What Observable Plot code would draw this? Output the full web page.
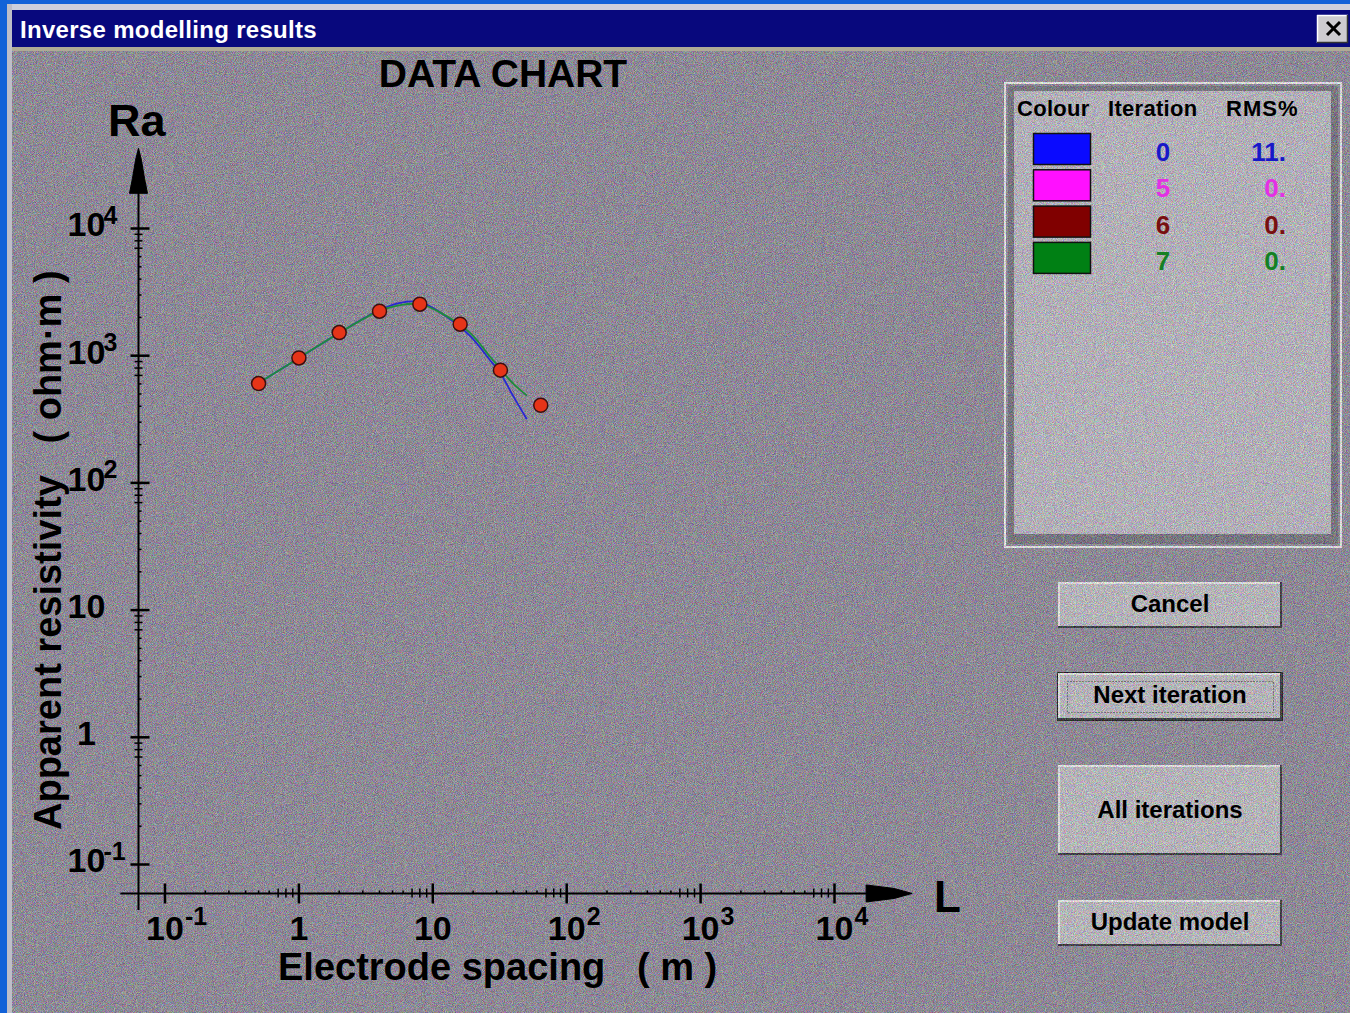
<!DOCTYPE html>
<html>
<head>
<meta charset="utf-8">
<script src="https://cdn.jsdelivr.net/npm/d3@7"></script>
<script src="https://cdn.jsdelivr.net/npm/@observablehq/plot@0.6"></script>
<style>
  html, body { margin: 0; padding: 0; }
  body { width: 1350px; height: 1013px; position: relative; overflow: hidden;
         background: rgb(142,138,152); font-family: "Liberation Sans", Arial, sans-serif; }
  .abs { position: absolute; left: 0; top: 0; }
  #txt text { font-family: "Liberation Sans", Arial, sans-serif; white-space: pre; }
</style>
</head>
<body>
<svg id="bg" class="abs" width="1350" height="1013"></svg>
<div id="chart" class="abs"></div>
<svg id="txt" class="abs" width="1350" height="1013"></svg>
<script>
// ---------------- data ----------------
// observed apparent resistivity (ohm·m) at electrode spacing (m)
const spacing     = [0.5, 1, 2, 4, 8, 16, 32, 64];
const observedRa  = [604, 961, 1520, 2240, 2540, 1770, 770, 408];

// model curves
const modelSpacing = [0.5, 1, 2, 4, 5.7, 8, 11.3, 18.9, 26.6, 31.6, 39.5, 50];
const iter0Ra      = [610, 960, 1510, 2280, 2600, 2640, 2200, 1440, 930, 745, 490, 321];
const iter7Ra      = [610, 960, 1510, 2250, 2500, 2540, 2190, 1520, 990, 800, 608, 490];

// legend
const iterations  = [0, 5, 6, 7];
const rmsPercent  = ["11.", "0.", "0.", "0."];
const iterColors  = ["rgb(10,10,255)", "rgb(255,16,255)", "rgb(128,0,0)", "rgb(0,128,20)"];
const iterText    = ["rgb(24,24,200)", "rgb(228,48,228)", "rgb(120,16,16)", "rgb(20,128,36)"];

// axis ticks
const decadeTicks = [0.1, 1, 10, 100, 1000, 10000];
const tickBase    = ["10", "1", "10", "10", "10", "10"];
const tickExp     = ["-1", "", "", "2", "3", "4"];

const buttons = ["Cancel", "Next iteration", "All iterations", "Update model"];

// ---------------- background / window chrome ----------------
const bg = d3.select("#bg");
const defs = bg.append("defs");
const f = defs.append("filter").attr("id", "noise").attr("x", 0).attr("y", 0)
  .attr("width", "100%").attr("height", "100%").attr("color-interpolation-filters", "sRGB");
f.append("feTurbulence").attr("type", "fractalNoise").attr("baseFrequency", 1.1).attr("numOctaves", 2).attr("seed", 7);
f.append("feColorMatrix").attr("type", "matrix")
  .attr("values", "2.4 0 0 0 -0.7  0 2.4 0 0 -0.7  0 0 2.4 0 -0.7  0 0 0 0 1");

function rect(x, y, w, h, fill, extra = {}) {
  const r = bg.append("rect").attr("x", x).attr("y", y).attr("width", w).attr("height", h).attr("fill", fill);
  for (const k in extra) r.attr(k, extra[k]);
  return r;
}
function line(x1, y1, x2, y2, stroke, w, extra = {}) {
  const l = bg.append("line").attr("x1", x1).attr("y1", y1).attr("x2", x2).attr("y2", y2)
    .attr("stroke", stroke).attr("stroke-width", w);
  for (const k in extra) l.attr(k, extra[k]);
  return l;
}
rect(0, 0, 1350, 1013, "rgb(148,142,160)");

// legend panel
rect(1005, 83, 336, 464, "none", {stroke: "#fff", "stroke-width": 2});
rect(1008, 86, 330, 458, "rgb(118,115,128)");
rect(1014, 91, 317, 443, "rgb(200,197,208)");

// buttons
const btnBoxes = [[1058, 582, 224, 46], [1058, 673, 224, 47], [1058, 765, 224, 90], [1058, 900, 224, 46]];
btnBoxes.forEach(([x, y, w, h], i) => {
  if (i === 1) rect(x - 1, y - 1, w + 2, h + 2, "rgb(10,10,10)");
  rect(x, y, w, h, "rgb(204,202,209)");
  line(x, y + 1, x + w, y + 1, "#fff", 2); line(x + 1, y, x + 1, y + h, "#fff", 2);
  line(x, y + h - 1, x + w, y + h - 1, "rgb(40,40,48)", 2); line(x + w - 1, y, x + w - 1, y + h, "rgb(40,40,48)", 2);
  if (i === 1) rect(1067.5, 681.5, 206, 31, "none", {stroke: "#222", "stroke-width": 1, "stroke-dasharray": "1,2"});
});
// texture
rect(0, 0, 1350, 1013, "#888", {filter: "url(#noise)", opacity: 0.3});

// window chrome (on top of texture)
rect(0, 0, 1350, 4, "rgb(18,98,216)");
rect(0, 4, 1350, 6, "rgb(205,208,220)");
rect(0, 0, 7, 1013, "rgb(18,98,216)");
rect(7, 4, 5, 1009, "rgb(190,190,200)");
rect(12, 10, 1338, 37, "rgb(8,8,125)");
rect(12, 47, 1338, 4, "rgb(175,170,150)");
// close button
rect(1317, 15, 31, 28, "rgb(205,203,208)");
line(1317, 15.5, 1348, 15.5, "#fff", 1.5); line(1317.5, 15, 1317.5, 43, "#fff", 1.5);
line(1317, 42.5, 1348, 42.5, "#333", 1.5); line(1347.5, 15, 1347.5, 43, "#333", 1.5);
line(1327, 22, 1340, 35, "#000", 3); line(1340, 22, 1327, 35, "#000", 3);

// legend swatches
iterColors.forEach((c, i) => {
  rect(1033.5, 133.5 + i * 36.3, 57, 31, c, {stroke: "#111", "stroke-width": 1.5});
});

// ---------------- chart (Observable Plot) ----------------
const X_AXIS_AT = 0.0592;      // Ra value on which the horizontal axis sits
const X_AXIS_FROM = 0.0468, X_AXIS_TO = 2.0e4, X_ARROW_TIP = 3.8e4;
const Y_AXIS_AT = 0.0634;      // spacing value on which the vertical axis sits
const Y_AXIS_FROM = 0.0435, Y_AXIS_TO = 2.0e4, Y_ARROW_TIP = 4.27e4;

const sym = (pts) => ({draw(c) { c.moveTo(...pts[0]); for (const p of pts.slice(1)) c.lineTo(...p); }});
const arrowRight = {draw(c) { c.moveTo(0, 0); c.lineTo(-18, -5); c.lineTo(-46, -8.5); c.lineTo(-46, 8.5); c.lineTo(-18, 5); c.closePath(); }};
const arrowUp    = {draw(c) { c.moveTo(0, 0); c.lineTo(-3, 12); c.lineTo(-6, 30); c.lineTo(-9, 45); c.lineTo(9, 45); c.lineTo(6, 30); c.lineTo(3, 12); c.closePath(); }};
const xMajor = sym([[0, -10], [0, 10]]);
const xLong  = sym([[0, -5], [0, 4]]);
const xShort = sym([[0, -3], [0, 0]]);
const yMajor = sym([[-8, 0], [11, 0]]);
const yLong  = sym([[-4, 0], [4, 0]]);
const yShort = sym([[0, 0], [3, 0]]);

const minorLong = [], minorShort = [];
for (const d of [0.1, 1, 10, 100, 1000]) {
  for (let k = 2; k <= 9; k++) (k >= 7 ? minorLong : minorShort).push(d * k);
}

const obs = spacing.map((x, i) => ({x, y: observedRa[i]}));
const it0 = modelSpacing.map((x, i) => ({x, y: iter0Ra[i]}));
const it7 = modelSpacing.map((x, i) => ({x, y: iter7Ra[i]}));
const labels = decadeTicks.map((v, i) => ({v, base: tickBase[i], exp: tickExp[i]}));

const bold = {fontWeight: "bold", fill: "black", fontFamily: "Liberation Sans, Arial, sans-serif"};

const chart = Plot.plot({
  width: 1000, height: 1013,
  style: {background: "transparent", overflow: "visible"},
  x: {type: "log", domain: [0.1, 1e4], range: [164.5, 834], axis: null},
  y: {type: "log", domain: [0.1, 1e4], range: [864, 228], axis: null},
  marks: [
    // axes
    Plot.ruleY([X_AXIS_AT], {x1: X_AXIS_FROM, x2: X_AXIS_TO, stroke: "black", strokeWidth: 2}),
    Plot.ruleX([Y_AXIS_AT], {y1: Y_AXIS_FROM, y2: Y_AXIS_TO, stroke: "black", strokeWidth: 2}),
    Plot.dot([X_ARROW_TIP], {x: d => d, y: X_AXIS_AT, symbol: arrowRight, fill: "black", stroke: "black", strokeWidth: 1}),
    Plot.dot([Y_ARROW_TIP], {x: Y_AXIS_AT, y: d => d, symbol: arrowUp, fill: "black", stroke: "black", strokeWidth: 1}),
    // x ticks
    Plot.dot(decadeTicks, {x: d => d, y: X_AXIS_AT, symbol: xMajor, stroke: "black", fill: "none", strokeWidth: 2.5}),
    Plot.dot(minorLong, {x: d => d, y: X_AXIS_AT, symbol: xLong, stroke: "black", fill: "none", strokeWidth: 1.5}),
    Plot.dot(minorShort, {x: d => d, y: X_AXIS_AT, symbol: xShort, stroke: "black", fill: "none", strokeWidth: 1.5}),
    // y ticks
    Plot.dot(decadeTicks, {x: Y_AXIS_AT, y: d => d, symbol: yMajor, stroke: "black", fill: "none", strokeWidth: 2.5}),
    Plot.dot(minorLong, {x: Y_AXIS_AT, y: d => d, symbol: yLong, stroke: "black", fill: "none", strokeWidth: 1.5}),
    Plot.dot(minorShort, {x: Y_AXIS_AT, y: d => d, symbol: yShort, stroke: "black", fill: "none", strokeWidth: 1.5}),
    // x tick labels
    Plot.text(labels, {x: "v", y: X_AXIS_AT, text: "base", dy: 36, fontSize: 34, textAnchor: "middle", lineAnchor: "middle", ...bold}),
    Plot.text(labels, {x: "v", y: X_AXIS_AT, text: "exp", dx: 20, dy: 24, fontSize: 25, textAnchor: "start", lineAnchor: "middle", ...bold}),
    // y tick labels
    Plot.text(labels, {x: Y_AXIS_AT, y: "v", text: "base", dx: -52, dy: -3, fontSize: 34, textAnchor: "middle", lineAnchor: "middle", ...bold}),
    Plot.text(labels, {x: Y_AXIS_AT, y: "v", text: "exp", dx: -35, dy: -13, fontSize: 25, textAnchor: "start", lineAnchor: "middle", ...bold}),
    // model curves (iteration 0 underneath, final iteration on top)
    Plot.line(it0, {x: "x", y: "y", stroke: "rgb(40,40,210)", strokeWidth: 1.8, curve: "catmull-rom"}),
    Plot.line(it7, {x: "x", y: "y", stroke: "rgb(30,140,60)", strokeWidth: 1.8, curve: "catmull-rom"}),
    // observed data
    Plot.dot(obs, {x: "x", y: "y", r: 7, fill: "rgb(230,52,24)", stroke: "rgb(60,16,16)", strokeWidth: 1.5})
  ]
});
document.getElementById("chart").appendChild(chart);

// ---------------- texts ----------------
const T = d3.select("#txt");
function txt(x, y, s, o = {}) {
  const t = T.append("text").attr("x", x).attr("y", y).text(s)
    .attr("font-size", o.size || 24).attr("font-weight", o.weight || "bold")
    .attr("fill", o.fill || "#000").attr("text-anchor", o.anchor || "start")
    .attr("xml:space", "preserve");
  if (o.spacing) t.attr("letter-spacing", o.spacing);
  if (o.transform) t.attr("transform", o.transform);
  return t;
}
txt(20, 38, "Inverse modelling results", {size: 24, fill: "#fff", spacing: 0.3});
txt(503, 87, "DATA CHART", {size: 39, anchor: "middle"});
txt(108, 136, "Ra", {size: 45});
txt(934, 912, "L", {size: 44});
txt(278, 980, "Electrode spacing   ( m )", {size: 38});
txt(0, 0, "Apparent resistivity   ( ohm·m )", {size: 38, transform: "translate(61,830) rotate(-90)"});

// legend texts
txt(1017, 116, "Colour", {size: 22, spacing: 0.3});
txt(1108, 116, "Iteration", {size: 22, spacing: 0.3});
txt(1226, 116, "RMS%", {size: 22, spacing: 1});
iterations.forEach((it, i) => {
  const y = 161 + i * 36.3;
  txt(1163, y, String(it), {size: 26, anchor: "middle", fill: iterText[i]});
  txt(1286, y, rmsPercent[i], {size: 26, anchor: "end", fill: iterText[i]});
});

// button labels
const btnBase = [612, 703, 818, 930];
buttons.forEach((b, i) => txt(1170, btnBase[i], b, {size: 24, anchor: "middle"}));
</script>
</body>
</html>
